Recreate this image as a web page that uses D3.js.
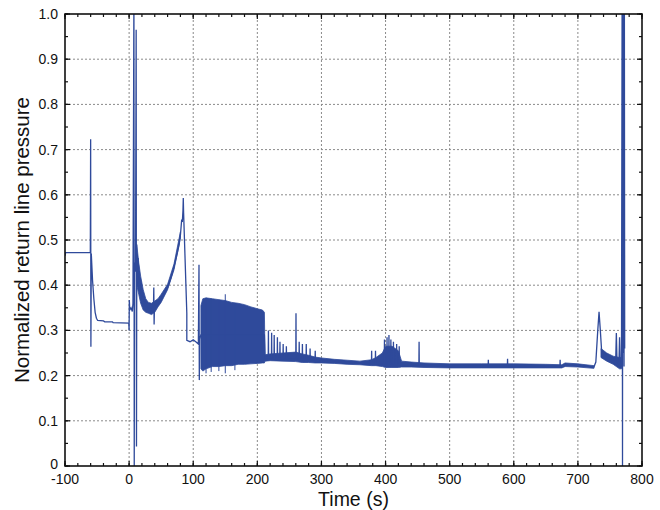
<!DOCTYPE html>
<html lang="en">
<head>
<meta charset="utf-8">
<script src="https://d3js.org/d3.v7.min.js"></script>
<style>
  body { margin: 0; background: #fff; }
  text { font-family: "Liberation Sans", Arial, sans-serif; fill: #111; }
</style>
<title>Normalized return line pressure</title>
</head>
<body>
<script>
// chart data
var xTicks = [-100, 0, 100, 200, 300, 400, 500, 600, 700, 800];
var yTicks = [0, 0.1, 0.2, 0.3, 0.4, 0.5, 0.6, 0.7, 0.8, 0.9, 1.0];

// main pressure trace: [time (s), normalized pressure]
var trace = [
  [-100, 0.465], [-99, 0.472], [-60.5, 0.472], [-60, 0.723], [-59.6, 0.264], [-59, 0.47],
  [-57, 0.41], [-55, 0.37], [-53, 0.34], [-51, 0.327], [-49, 0.322], [-40, 0.321],
  [-38, 0.319], [-26, 0.319], [-25, 0.317], [-0.5, 0.316], [0, 0.30], [0.3, 0.367],
  [1, 0.345], [3, 0.35], [5, 0.342], [6, 0.36], [7.5, 1.05], [8, 0.0], [8.5, 0.45],
  [10, 0.43], [11, 0.965], [11.5, 0.043], [12, 0.47], [13, 0.41], [14, 0.46], [16, 0.40],
  [18, 0.41], [20, 0.37], [23, 0.37], [26, 0.355], [30, 0.35], [34, 0.345], [38, 0.35],
  [38.5, 0.395], [39, 0.313], [39.5, 0.35], [45, 0.36], [50, 0.37], [55, 0.38], [60, 0.395],
  [65, 0.415], [70, 0.44], [75, 0.47], [78, 0.49], [80, 0.51], [82, 0.545], [83, 0.54],
  [84, 0.565], [84.5, 0.593], [85, 0.56], [90, 0.338], [90, 0.278], [95, 0.275],
  [100, 0.279], [104, 0.275], [108, 0.27], [109, 0.445], [109.5, 0.19], [110, 0.28],
  [112, 0.29], [150, 0.29], [211, 0.29], [212, 0.24],
  [217, 0.24], [217.3, 0.30], [217.6, 0.24], [222, 0.24], [222.3, 0.295], [222.6, 0.24],
  [226, 0.238], [226.3, 0.29], [226.6, 0.238], [231, 0.238], [231.3, 0.285], [231.6, 0.238],
  [235, 0.238], [235.3, 0.275], [235.6, 0.238], [240, 0.237], [240.3, 0.27], [240.6, 0.237],
  [245, 0.237], [245.3, 0.265], [245.6, 0.237], [260, 0.237], [260.3, 0.338], [260.6, 0.237],
  [265, 0.236], [265.3, 0.275], [265.6, 0.236], [270, 0.236], [270.3, 0.27], [270.6, 0.236],
  [276, 0.235], [276.3, 0.27], [276.6, 0.235], [282, 0.235], [282.3, 0.26], [282.6, 0.235],
  [290, 0.234], [290.3, 0.255], [290.6, 0.234], [300, 0.232], [340, 0.229], [378, 0.227],
  [378.3, 0.255], [378.6, 0.227], [384, 0.227], [384.3, 0.255], [384.6, 0.227],
  [398, 0.226], [398.3, 0.28], [398.6, 0.226], [402, 0.226], [402.3, 0.285], [402.6, 0.226],
  [405, 0.226], [405.3, 0.29], [405.6, 0.226], [408, 0.226], [408.3, 0.28], [408.6, 0.226],
  [412, 0.225], [412.3, 0.275], [412.6, 0.225], [417, 0.225], [417.3, 0.27], [417.6, 0.225],
  [421, 0.225], [421.3, 0.265], [421.6, 0.225], [452, 0.223], [452.3, 0.275], [452.6, 0.223],
  [500, 0.222], [560, 0.221], [560.3, 0.235], [560.6, 0.221], [590, 0.221], [590.3, 0.237],
  [590.6, 0.221], [672, 0.221], [672.3, 0.235], [672.6, 0.221], [679, 0.221], [680, 0.225],
  [700, 0.223], [725, 0.219], [728, 0.23], [731, 0.30], [733, 0.341], [735, 0.30],
  [737, 0.255], [745, 0.245], [755, 0.236], [759, 0.235], [760, 0.294], [761, 0.232],
  [764, 0.225], [765, 0.285], [766, 0.225], [768, 0.22], [769, 1.05], [769.6, 0.0],
  [770, 1.05], [770.5, 0.25], [771, 1.05], [772, 0.22], [772.5, 1.05], [773, 0.26]
];

// envelope of the dense oscillating / noisy parts (null = no band)
var bandT  = [12, 15, 18, 22, 26, 30, 35, 40, 45, 50, 60, 70, 80, 81,
              112, 115, 120, 130, 140, 150, 160, 170, 180, 190, 200, 208, 211, 212, 220, 240,
              260, 270, 280, 290, 300, 320, 340, 360, 378, 385, 395, 400, 410, 420, 425, 440,
              460, 500, 550, 600, 650, 675, 680, 700, 725, 726,
              736, 745, 755, 765, 768];
var bandLo = [0.40, 0.38, 0.36, 0.345, 0.34, 0.338, 0.335, 0.34, 0.352, 0.362, 0.39, 0.434, 0.505, null,
              0.215, 0.21, 0.215, 0.22, 0.22, 0.222, 0.222, 0.225, 0.225, 0.226, 0.227, 0.228,
              0.228, 0.232, 0.233, 0.232, 0.231, 0.229, 0.229, 0.228, 0.228, 0.227, 0.225, 0.224,
              0.222, 0.222, 0.22, 0.218, 0.218, 0.218, 0.219, 0.219, 0.218, 0.217, 0.217,
              0.217, 0.217, 0.217, 0.22, 0.219, 0.216, null,
              0.24, 0.232, 0.225, 0.215, 0.215];
var bandHi = [0.49, 0.45, 0.42, 0.39, 0.37, 0.362, 0.36, 0.365, 0.37, 0.38, 0.402, 0.447, 0.518, null,
              0.355, 0.37, 0.372, 0.37, 0.368, 0.366, 0.362, 0.36, 0.357, 0.352, 0.348, 0.345,
              0.34, 0.246, 0.248, 0.25, 0.252, 0.248, 0.245, 0.241, 0.239, 0.236, 0.234, 0.232,
              0.235, 0.24, 0.25, 0.265, 0.265, 0.255, 0.232, 0.23, 0.228, 0.226, 0.226,
              0.226, 0.225, 0.224, 0.228, 0.226, 0.222, null,
              0.26, 0.25, 0.243, 0.24, 0.24];

// isolated spikes out of the dense band: [time, low, high]
var bandSpikes = [[120, 0.205, 0.37], [128, 0.208, 0.37], [140, 0.21, 0.368],
                  [150, 0.205, 0.38], [165, 0.212, 0.36]];

var width = 660, height = 510;
var margin = {top: 14, right: 18, bottom: 44, left: 65};
var lineColor = "#2f4a9b";

var svg = d3.select("body").append("svg")
  .attr("width", width)
  .attr("height", height);

var x = d3.scaleLinear().domain([-100, 800]).range([margin.left, width - margin.right]);
var y = d3.scaleLinear().domain([0, 1]).range([height - margin.bottom, margin.top]);

var x0 = x.range()[0], x1 = x.range()[1], y0 = y.range()[0], y1 = y.range()[1];

// grid
svg.append("g").selectAll("line.gx")
  .data(xTicks.slice(1, -1))
  .enter().append("line")
  .attr("x1", d => x(d)).attr("x2", d => x(d))
  .attr("y1", y0).attr("y2", y1)
  .style("stroke", "#8a8a8a").style("stroke-width", 1).style("stroke-dasharray", "2,2");
svg.append("g").selectAll("line.gy")
  .data(yTicks.slice(1, -1))
  .enter().append("line")
  .attr("x1", x0).attr("x2", x1)
  .attr("y1", d => y(d)).attr("y2", d => y(d))
  .style("stroke", "#8a8a8a").style("stroke-width", 1).style("stroke-dasharray", "2,2");

// clip to the plot box
svg.append("clipPath").attr("id", "plot")
  .append("rect").attr("x", x0).attr("y", y1).attr("width", x1 - x0).attr("height", y0 - y1);

var plot = svg.append("g").attr("clip-path", "url(#plot)");

var bandData = bandT.map((t, i) => ({t: t, lo: bandLo[i], hi: bandHi[i]}));
var area = d3.area()
  .defined(d => d.lo !== null)
  .x(d => x(d.t))
  .y0(d => y(d.lo))
  .y1(d => y(d.hi));

plot.append("path")
  .datum(bandData)
  .attr("d", area)
  .style("fill", lineColor)
  .style("stroke", lineColor)
  .style("stroke-width", 0.8);

plot.selectAll("line.spike")
  .data(bandSpikes)
  .enter().append("line")
  .attr("x1", d => x(d[0])).attr("x2", d => x(d[0]))
  .attr("y1", d => y(d[1])).attr("y2", d => y(d[2]))
  .style("stroke", lineColor).style("stroke-width", 1);

var line = d3.line()
  .x(d => x(d[0]))
  .y(d => y(d[1]));

plot.append("path")
  .datum(trace)
  .attr("d", line)
  .style("fill", "none")
  .style("stroke", lineColor)
  .style("stroke-width", 1.3);

// axes with inward ticks on all four sides
var xMinor = d3.range(-100, 801, 20);
var yMinor = d3.range(0, 1.0001, 0.05);

function ticks(g, data, scale, horiz, pos, dir, len) {
  g.selectAll(null).data(data).enter().append("line")
    .attr("x1", d => horiz ? scale(d) : pos)
    .attr("x2", d => horiz ? scale(d) : pos + dir * len)
    .attr("y1", d => horiz ? pos : scale(d))
    .attr("y2", d => horiz ? pos + dir * len : scale(d))
    .style("stroke", "#111").style("stroke-width", 1.2);
}
var axes = svg.append("g");
ticks(axes, xMinor, x, true, y0, -1, 3);
ticks(axes, xTicks, x, true, y0, -1, 5);
ticks(axes, xMinor, x, true, y1, 1, 3);
ticks(axes, xTicks, x, true, y1, 1, 5);
ticks(axes, yMinor, y, false, x0, 1, 3);
ticks(axes, yTicks, y, false, x0, 1, 5);
ticks(axes, yMinor, y, false, x1, -1, 3);
ticks(axes, yTicks, y, false, x1, -1, 5);

svg.append("rect")
  .attr("x", x0).attr("y", y1).attr("width", x1 - x0).attr("height", y0 - y1)
  .style("fill", "none").style("stroke", "#111").style("stroke-width", 1.6);

// tick labels
svg.append("g").selectAll("text")
  .data(xTicks)
  .enter().append("text")
  .attr("x", d => x(d))
  .attr("y", y0 + 18)
  .attr("text-anchor", "middle")
  .style("font-size", "14px")
  .text(d => d);

svg.append("g").selectAll("text")
  .data(yTicks)
  .enter().append("text")
  .attr("x", x0 - 7)
  .attr("y", d => y(d))
  .attr("dy", d => d === 0 ? "0.2em" : "0.35em")
  .attr("text-anchor", "end")
  .style("font-size", "14px")
  .text(d => d === 0 ? "0" : d3.format(".1f")(d));

// axis titles
svg.append("text")
  .attr("x", (x0 + x1) / 2)
  .attr("y", height - 4)
  .attr("text-anchor", "middle")
  .style("font-size", "19.5px")
  .text("Time (s)");

svg.append("text")
  .attr("transform", "translate(29," + ((y0 + y1) / 2) + ") rotate(-90)")
  .attr("text-anchor", "middle")
  .style("font-size", "20.5px")
  .text("Normalized return line pressure");
</script>
</body>
</html>
